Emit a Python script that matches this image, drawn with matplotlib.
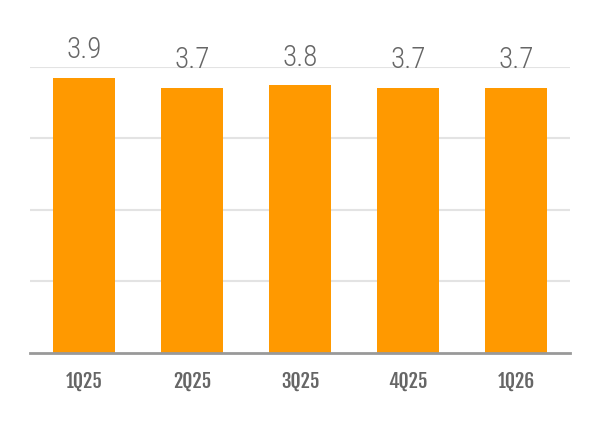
import matplotlib
matplotlib.use("Agg")
import matplotlib.pyplot as plt
from matplotlib import font_manager

quarters = ["1Q25", "2Q25", "3Q25", "4Q25", "1Q26"]
values = [3.85, 3.71, 3.74, 3.71, 3.71]
value_labels = ["3.9", "3.7", "3.8", "3.7", "3.7"]

names = {f.name for f in font_manager.fontManager.ttflist}
tick_fonts = [n for n in ["Fjalla One", "Oswald", "Roboto Condensed"] if n in names] + ["DejaVu Sans"]
value_fonts = [n for n in ["Roboto Condensed"] if n in names] + ["DejaVu Sans"]

fig = plt.figure(figsize=(6, 4.22), dpi=100)
ax = fig.add_axes([0.05, 0.1635, 0.90, 0.678])

ax.bar(range(len(values)), values, width=0.57, color="#FF9900", zorder=3)
for i, (v, lab) in enumerate(zip(values, value_labels)):
    ax.annotate(lab, (i, v), xytext=(0, 14), textcoords="offset points",
                ha="center", va="baseline", fontsize=21, color="#666666",
                family=value_fonts, fontweight="light")

ax.set_xlim(-0.5, len(values) - 0.5)
ax.set_ylim(0, 4)
ax.set_yticks([1, 2, 3, 4])
ax.yaxis.grid(True, color="#e3e3e3", linewidth=1.5, zorder=0)
ax.tick_params(axis="y", left=False, labelleft=False)
ax.set_xticks(range(len(quarters)))
ax.set_xticklabels(quarters, fontsize=14, color="#666666", family=tick_fonts)
ax.tick_params(axis="x", bottom=False, pad=9.5)
for s in ["top", "right", "left"]:
    ax.spines[s].set_visible(False)
ax.spines["bottom"].set_color("#999999")
ax.spines["bottom"].set_linewidth(2)
ax.spines["bottom"].set_zorder(4)

fig.savefig("out.png", dpi=100)
